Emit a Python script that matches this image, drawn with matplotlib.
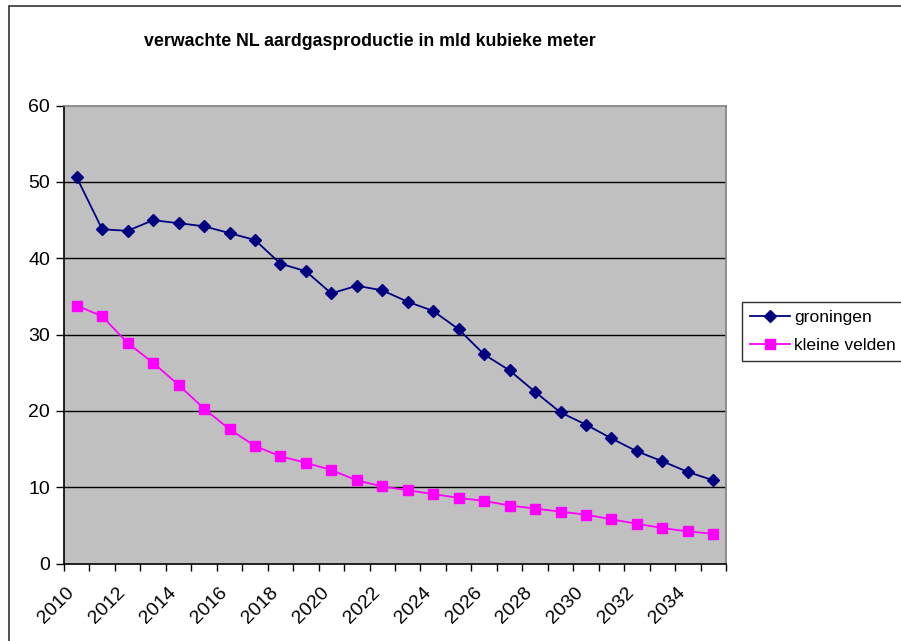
import matplotlib
matplotlib.use('Agg')
import matplotlib.pyplot as plt
from matplotlib.patches import Rectangle
from matplotlib.transforms import ScaledTranslation

plt.rcParams['font.family'] = ['Liberation Sans', 'DejaVu Sans']

# data
years = list(range(2010, 2036))
groningen = [50.6, 43.8, 43.6, 45.0, 44.6, 44.2, 43.3, 42.4, 39.3, 38.3,
             35.4, 36.4, 35.8, 34.3, 33.1, 30.7, 27.4, 25.3, 22.5, 19.8,
             18.2, 16.4, 14.7, 13.4, 12.0, 10.9]
kleine_velden = [33.8, 32.4, 28.9, 26.3, 23.4, 20.3, 17.6, 15.4, 14.05, 13.2,
                 12.25, 10.9, 10.1, 9.6, 9.1, 8.6, 8.2, 7.6, 7.2, 6.8,
                 6.4, 5.8, 5.2, 4.65, 4.2, 3.9]
title = 'verwachte NL aardgasproductie in mld kubieke meter'

W, H = 901, 641
fig = plt.figure(figsize=(W / 100, H / 100), dpi=100)

# chart area border (cut off at right and bottom like the original)
fig.patches.append(Rectangle((9 / W, -0.1), 1.2, 1.1 - 6 / H, transform=fig.transFigure,
                             fill=False, edgecolor='#333333', linewidth=1.2))

ax = fig.add_axes([64 / W, 1 - 563.5 / H, 662 / W, 457.8 / H])
ax.set_facecolor('#C0C0C0')

x = list(range(len(years)))
ax.plot(x, groningen, color='#000080', marker='D', markersize=6.5, linewidth=1.3,
        label='groningen', zorder=3)
ax.plot(x, kleine_velden, color='#FF00FF', marker='s', markersize=6.5, linewidth=1.3,
        label='kleine velden', zorder=3)

ax.set_xlim(-0.5, len(years) - 0.5)
ax.set_ylim(0, 60)
ax.set_yticks(range(0, 61, 10))
for yv in range(10, 60, 10):
    ax.axhline(yv, color='black', linewidth=1.0, zorder=1)

# category boundaries as tick marks, labels at category centres
ax.set_xticks([i - 0.5 for i in range(len(years) + 1)])
ax.set_xticklabels([])
ax.set_xticks(x[::2], minor=True)
ax.tick_params(axis='x', which='major', direction='out', length=5, width=1, color='black')
ax.tick_params(axis='x', which='minor', length=0, pad=15)
ax.tick_params(axis='y', direction='out', length=6, width=1, labelsize=14, pad=4)
ax.set_xticklabels([str(y) for y in years[::2]], minor=True, rotation=45,
                   ha='right', rotation_mode='anchor', fontsize=14)
# nudge the rotated labels left (after tick_params, which resets transforms)
shift = ScaledTranslation(-11 / 100, 0, fig.dpi_scale_trans)
for lab in ax.get_xticklabels(minor=True):
    lab.set_transform(lab.get_transform() + shift)

ax.spines['left'].set_color('black')
ax.spines['bottom'].set_color('black')
ax.spines['top'].set_color('#808080')
ax.spines['right'].set_color('#808080')
for s in ax.spines.values():
    s.set_linewidth(1.2)

fig.text(370 / W, 1 - 41 / H, title, ha='center', va='center', fontsize=12.8,
         fontweight='bold')

leg = fig.legend(loc='upper left', bbox_to_anchor=(742 / W, 1 - 302 / H),
                 fontsize=12.6, frameon=True, fancybox=False, handlelength=2.3,
                 handletextpad=0.25, borderpad=0.45, labelspacing=0.7,
                 borderaxespad=0)
leg.get_frame().set_edgecolor('black')
leg.get_frame().set_linewidth(1.0)

fig.savefig('out.png', dpi=100)
plt.close(fig)
